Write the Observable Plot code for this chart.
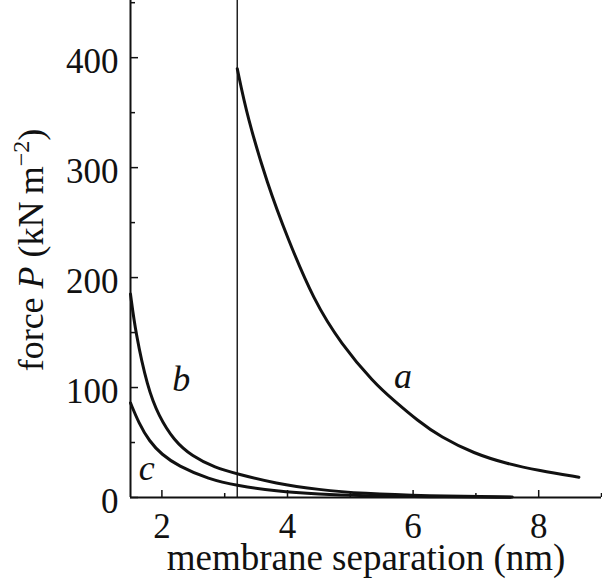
<!DOCTYPE html>
<html><head><meta charset="utf-8">
<script src="https://cdn.jsdelivr.net/npm/d3@7"></script>
<script src="https://cdn.jsdelivr.net/npm/@observablehq/plot@0.6"></script>
<style>body{margin:0;background:#fff}</style>
</head><body><div id="chart"></div>
<script>
// curve a
const aX = [3.2, 3.36, 3.68, 4.0, 4.42, 4.85, 5.38, 5.70, 6.07, 6.44, 6.97, 7.5, 8.0, 8.64];
const aY = [390, 346, 285, 236, 179, 140, 104, 88, 70, 55, 40, 30.6, 24.5, 18.5];
// curve b
const bX = [1.5, 1.58, 1.77, 1.95, 2.19, 2.48, 2.85, 3.2, 3.81, 4.5, 5.2, 6.2, 7.58];
const bY = [185, 150, 100, 74, 52, 37.5, 27, 21.5, 12.7, 7, 3.6, 1.5, 0.5];
// curve c
const cX = [1.5, 1.63, 1.8, 2.0, 2.25, 2.75, 3.2, 3.81, 4.5, 5.2, 6.2, 7.55];
const cY = [86, 68, 51, 39, 29, 16.5, 10.8, 5.7, 3, 1.6, 0.6, 0.2];
// annotations
const labelText = ["a", "b", "c"];
const labelX = [5.84, 2.31, 1.76];
const labelY = [100, 97, 15.5];
const markerX = [3.2];
// ticks
const majorX = [2, 4, 6, 8];
const minorX = [3, 5, 7, 9];
const majorY = [0, 100, 200, 300, 400];
const minorY = [50, 150, 250, 350, 450];
const xTitle = "membrane separation (nm)";

const curves = [
  ...aX.map((x, i) => ({series: "a", x, y: aY[i]})),
  ...bX.map((x, i) => ({series: "b", x, y: bY[i]})),
  ...cX.map((x, i) => ({series: "c", x, y: cY[i]}))
];
const labels = labelText.map((t, i) => ({t, x: labelX[i], y: labelY[i]}));

const ink = "#111";
const plot = Plot.plot({
  width: 602, height: 586,
  marginLeft: 130, marginRight: 1, marginTop: 0, marginBottom: 89,
  style: {fontFamily: "Liberation Serif", fontSize: "35px", color: ink, background: "white"},
  x: {domain: [1.5, 9.0]},
  y: {domain: [0, 452]},
  marks: [
    Plot.ruleX(markerX, {stroke: "#222", strokeWidth: 1.5}),
    Plot.line(curves, {x: "x", y: "y", z: "series", stroke: ink, strokeWidth: 3, curve: "basis"}),
    Plot.ruleY([0], {stroke: ink, strokeWidth: 2}),
    Plot.ruleX([1.5], {stroke: ink, strokeWidth: 2}),
    Plot.ruleX(majorX, {y1: 0, y2: 0, insetTop: -7, stroke: ink, strokeWidth: 1.5}),
    Plot.ruleX(minorX, {y1: 0, y2: 0, insetTop: -4, stroke: ink, strokeWidth: 1.5}),
    Plot.ruleY(majorY, {x1: 1.5, x2: 1.5, insetRight: -8, stroke: ink, strokeWidth: 1.5}),
    Plot.ruleY(minorY, {x1: 1.5, x2: 1.5, insetRight: -5, stroke: ink, strokeWidth: 1.5}),
    Plot.axisX(majorX, {tickSize: 0, tickPadding: 16, label: null, fontSize: 35}),
    Plot.axisY(majorY, {tickSize: 0, tickPadding: 12, dy: 4, label: null, fontSize: 35}),
    Plot.text(labels, {x: "x", y: "y", text: "t", fontStyle: "italic", fontSize: 36, lineAnchor: "bottom", fill: ink}),
    Plot.text([xTitle], {frameAnchor: "bottom", dy: 72, lineAnchor: "bottom", fontSize: 37, fill: ink})
  ]
});

const svg = d3.select(plot);
const t = svg.append("text")
  .attr("transform", "translate(43,250) rotate(-90)")
  .attr("text-anchor", "middle")
  .attr("font-size", 36)
  .attr("font-family", "Liberation Serif")
  .attr("fill", ink);
t.append("tspan").text("force ");
t.append("tspan").attr("font-style", "italic").text("P");
t.append("tspan").text(" (kN\u2009m");
t.append("tspan").attr("dy", -14).attr("font-size", 24).text("\u22122");
t.append("tspan").attr("dy", 14).text(")");

document.getElementById("chart").append(plot);
</script>
</body></html>
